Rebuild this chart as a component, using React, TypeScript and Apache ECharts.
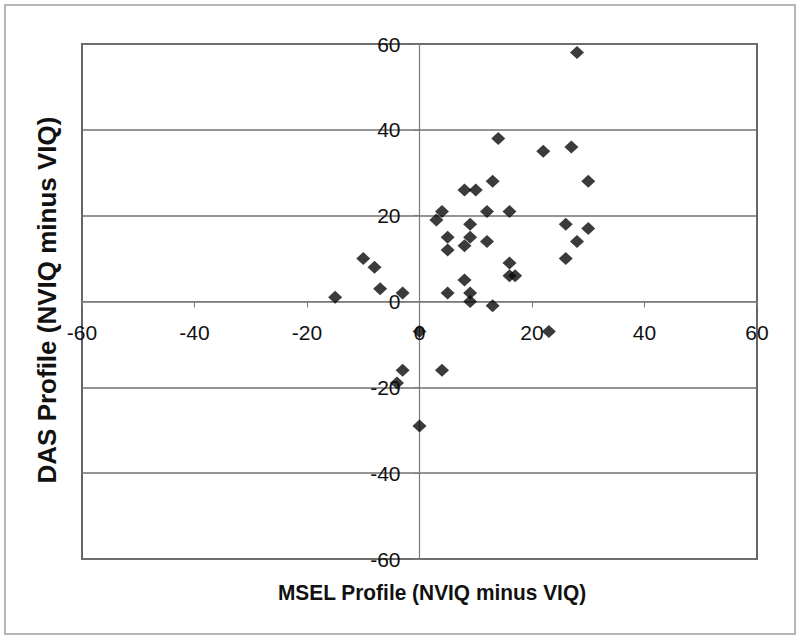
import React, { useEffect, useRef } from "react";
import * as echarts from "echarts";

const xTitle = "MSEL Profile (NVIQ minus VIQ)";
const yTitle = "DAS Profile (NVIQ minus VIQ)";

// MSEL profile (x) and DAS profile (y) values
const mselValues = [
  28, 14, 22, 27, 30, 13, 8, 10, 4, 3, 12, 16, 9, 5, 9, 8, 5, 12, 26, 30, 28,
  26, 16, 16, 17, 8, 5, 9, 9, 13, -10, -8, -7, -3, -15, 0, -3, -4, 4, 0, 23,
];
const dasValues = [
  58, 38, 35, 36, 28, 28, 26, 26, 21, 19, 21, 21, 18, 15, 15, 13, 12, 14, 18,
  17, 14, 10, 9, 6, 6, 5, 2, 2, 0, -1, 10, 8, 3, 2, 1, -7, -16, -19, -16, -29,
  -7,
];

const axisMin = -60;
const axisMax = 60;
const axisStep = 20;

const FONT = "'Liberation Sans', Arial, sans-serif";

const GRID_LEFT = 82;
const GRID_RIGHT = 43;
const GRID_TOP = 44;
const GRID_BOTTOM = 81;
const W = 800;
const H = 640;

export default function App() {
  const ref = useRef<HTMLDivElement>(null);

  useEffect(() => {
    if (!ref.current) return;
    const chart = echarts.init(ref.current, null, { renderer: "svg" });
    const data = mselValues.map((x, i) => [x, dasValues[i]]);
    const gridW = W - GRID_LEFT - GRID_RIGHT;
    const gridH = H - GRID_TOP - GRID_BOTTOM;
    chart.setOption({
      animation: false,
      backgroundColor: "#ffffff",
      grid: {
        left: GRID_LEFT,
        right: GRID_RIGHT,
        top: GRID_TOP,
        bottom: GRID_BOTTOM,
        show: true,
        borderColor: "#666",
        borderWidth: 2,
        backgroundColor: "transparent",
      },
      xAxis: {
        type: "value",
        position: "bottom",
        offset: -gridH / 2,
        min: axisMin,
        max: axisMax,
        interval: axisStep,
        axisLine: { onZero: false, lineStyle: { color: "#7a7a7a", width: 1.2 } },
        axisTick: { show: true, length: 6, lineStyle: { color: "#7a7a7a" } },
        axisLabel: {
          show: true,
          showMinLabel: true,
          showMaxLabel: true,
          margin: 20,
          fontSize: 21,
          color: "#111",
          fontFamily: FONT,
        },
        splitLine: { show: false },
      },
      yAxis: {
        type: "value",
        position: "left",
        offset: -gridW / 2,
        min: axisMin,
        max: axisMax,
        interval: axisStep,
        axisLine: { onZero: false, lineStyle: { color: "#7a7a7a", width: 1.2 } },
        axisTick: { show: true, length: 6, lineStyle: { color: "#7a7a7a" } },
        axisLabel: {
          show: true,
          showMinLabel: true,
          showMaxLabel: true,
          margin: 19,
          fontSize: 21,
          color: "#111",
          fontFamily: FONT,
        },
        splitLine: { show: true, lineStyle: { color: "#707070", width: 1.5 } },
      },
      graphic: [
        {
          type: "rect",
          shape: { x: 5, y: 5, width: 790, height: 629 },
          style: { fill: "none", stroke: "#a0a0a0", lineWidth: 1.5 },
          silent: true,
          z: -1,
        },
        {
          type: "text",
          x: 432,
          y: 593,
          scaleX: 0.95,
          style: {
            text: xTitle,
            font: `bold 22px ${FONT}`,
            fill: "#111",
            textAlign: "center",
            textVerticalAlign: "middle",
          },
        },
        {
          type: "text",
          x: 47,
          y: 300,
          rotation: Math.PI / 2,
          style: {
            text: yTitle,
            font: `bold 26px ${FONT}`,
            fill: "#111",
            textAlign: "center",
            textVerticalAlign: "middle",
          },
        },
      ],
      series: [
        {
          type: "scatter",
          data,
          symbol: "diamond",
          symbolSize: [14, 13],
          itemStyle: { color: "#0a0a0a" },
          z: 3,
        },
      ],
    });
    return () => chart.dispose();
  }, []);

  return (
    <div
      ref={ref}
      style={{ position: "fixed", left: 0, top: 0, width: W, height: H }}
    />
  );
}
